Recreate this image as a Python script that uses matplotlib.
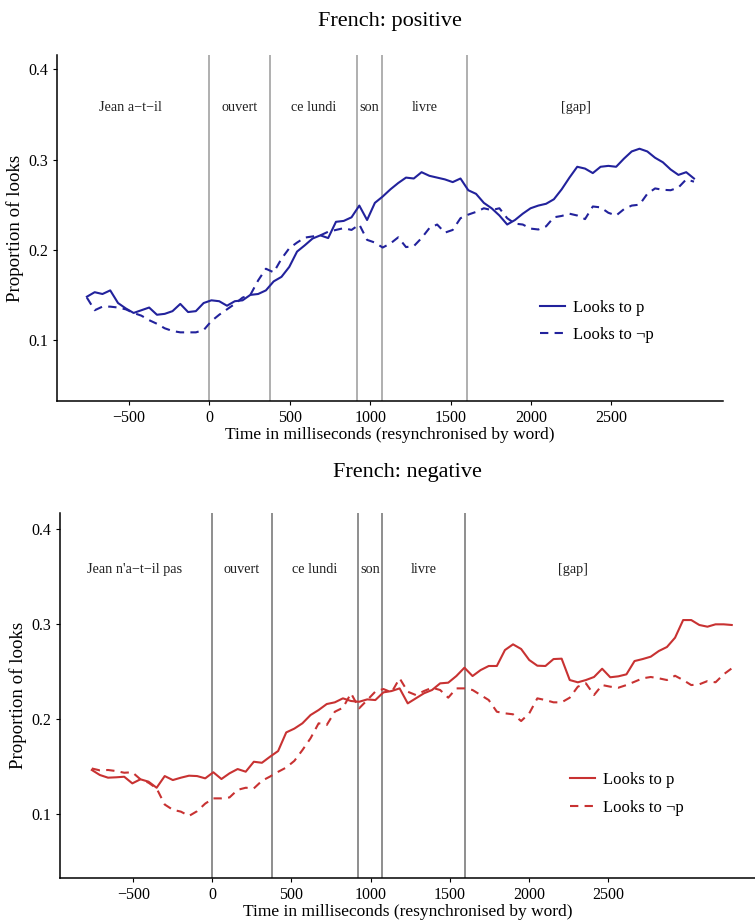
import numpy as np
import matplotlib.pyplot as plt

plt.rcParams['font.family'] = ['Liberation Serif', 'DejaVu Serif']

# word boundaries (ms) and region labels
boundaries = [0, 375, 920, 1075, 1600]
pos_words = ['Jean a\u2212t\u2212il', 'ouvert', 'ce lundi', 'son', 'livre', '[gap]']
neg_words = ["Jean n'a\u2212t\u2212il pas", 'ouvert', 'ce lundi', 'son', 'livre', '[gap]']
word_centres = [-490, 187, 647, 997, 1337, 2280]
xticks = [-500, 0, 500, 1000, 1500, 2000, 2500]
yticks = [0.1, 0.2, 0.3, 0.4]

# French: positive
pos_p = [0.148, 0.153, 0.151, 0.155, 0.141, 0.135, 0.130, 0.133, 0.136, 0.128,
         0.129, 0.132, 0.140, 0.131, 0.132, 0.141, 0.144, 0.143, 0.138, 0.143,
         0.144, 0.150, 0.151, 0.155, 0.165, 0.170, 0.181, 0.198, 0.205, 0.2125,
         0.216, 0.213, 0.231, 0.232, 0.236, 0.249, 0.233, 0.252, 0.259, 0.267,
         0.274, 0.280, 0.279, 0.286, 0.282, 0.280, 0.278, 0.275, 0.279, 0.266,
         0.262, 0.252, 0.246, 0.238, 0.228, 0.233, 0.240, 0.246, 0.249, 0.251,
         0.256, 0.267, 0.280, 0.292, 0.290, 0.285, 0.292, 0.293, 0.292, 0.301,
         0.309, 0.312, 0.309, 0.302, 0.297, 0.289, 0.283, 0.286, 0.279]
pos_notp = [0.147, 0.133, 0.137, 0.137, 0.136, 0.134, 0.130, 0.127, 0.122, 0.118,
            0.113, 0.110, 0.1085, 0.1085, 0.1085, 0.111, 0.121, 0.128, 0.134, 0.140,
            0.147, 0.150, 0.166, 0.179, 0.175, 0.190, 0.2017, 0.208, 0.2135, 0.2148,
            0.216, 0.220, 0.222, 0.224, 0.222, 0.228, 0.211, 0.208, 0.2025, 0.207,
            0.2138, 0.203, 0.204, 0.213, 0.224, 0.228, 0.219, 0.222, 0.235, 0.239,
            0.242, 0.246, 0.244, 0.246, 0.235, 0.229, 0.228, 0.2235, 0.2225, 0.226,
            0.236, 0.2375, 0.240, 0.238, 0.234, 0.248, 0.247, 0.241, 0.238, 0.245,
            0.249, 0.250, 0.262, 0.268, 0.2665, 0.266, 0.269, 0.278, 0.2755]

# French: negative
neg_p = [0.1464, 0.1411, 0.1383, 0.1387, 0.1393, 0.1323, 0.1366, 0.1341, 0.1277, 0.140,
         0.1358, 0.1383, 0.1404, 0.140, 0.1376, 0.144, 0.1369, 0.1429, 0.1474, 0.1446,
         0.1551, 0.154, 0.1604, 0.1664, 0.186, 0.190, 0.1956, 0.2043, 0.2096, 0.2159,
         0.2177, 0.2219, 0.2191, 0.2183, 0.2208, 0.2201, 0.2282, 0.2296, 0.2324, 0.2166,
         0.2219, 0.2272, 0.2307, 0.2377, 0.2384, 0.2454, 0.2542, 0.2454, 0.2517, 0.256,
         0.256, 0.2728, 0.2788, 0.2739, 0.2623, 0.2563, 0.256, 0.2633, 0.2637, 0.2412,
         0.2388, 0.2412, 0.2444, 0.2531, 0.2441, 0.2451, 0.2472, 0.2612, 0.2633, 0.2658,
         0.2718, 0.276, 0.2858, 0.3044, 0.3044, 0.2992, 0.2974, 0.2999, 0.2999, 0.2992]
neg_notp = [0.148, 0.146, 0.1464, 0.1453, 0.1435, 0.144, 0.1366, 0.133, 0.127, 0.110,
            0.1045, 0.1025, 0.098, 0.103, 0.111, 0.1165, 0.1165, 0.1175, 0.1255, 0.1277,
            0.127, 0.135, 0.1395, 0.1445, 0.149, 0.156, 0.1674, 0.1798, 0.1956, 0.1938,
            0.2078, 0.212, 0.2272, 0.2114, 0.2201, 0.229, 0.2317, 0.2282, 0.243, 0.2289,
            0.2254, 0.2296, 0.2331, 0.2307, 0.2226, 0.2324, 0.2324, 0.2307, 0.2254, 0.2201,
            0.2078, 0.2061, 0.2051, 0.198, 0.2061, 0.2219, 0.2201, 0.2177, 0.2177, 0.2226,
            0.2342, 0.2377, 0.2254, 0.2359, 0.2342, 0.2331, 0.2359, 0.2394, 0.243, 0.2444,
            0.243, 0.2412, 0.2457, 0.2412, 0.2359, 0.2367, 0.2401, 0.2388, 0.2472, 0.2535]

# time bins (ms)
pos_time = np.linspace(-763, 3015, len(pos_p))
neg_time = np.linspace(-762, 3283, len(neg_p))


def draw_panel(ax, time, p, notp, words, colour, line_colour, title, title_pad,
               xlim, ylim, leg_anchor):
    for b in boundaries:
        ax.axvline(b, color=line_colour, linewidth=1.1, zorder=1)
    for w, c in zip(words, word_centres):
        ax.text(c, 0.358, w, ha='center', va='center', fontsize=10.3, color='#222222')
    ax.plot(time, p, color=colour, linewidth=1.5, label='Looks to p', zorder=3)
    ax.plot(time, notp, color=colour, linewidth=1.5, linestyle=(0, (4, 3)),
            label='Looks to \u00acp', zorder=3)
    ax.set_xlim(*xlim)
    ax.set_ylim(*ylim)
    ax.set_xticks(xticks)
    ax.set_yticks(yticks)
    ax.set_yticklabels(['0.1', '0.2', '0.3', '0.4'])
    ax.tick_params(labelsize=11.5, length=3, width=0.8, colors='black')
    for s in ['top', 'right']:
        ax.spines[s].set_visible(False)
    for s in ['left', 'bottom']:
        ax.spines[s].set_linewidth(1.1)
    ax.set_xlabel('Time in milliseconds (resynchronised by word)', fontsize=12.5, labelpad=1)
    ax.set_ylabel('Proportion of looks', fontsize=13.6, labelpad=3)
    ax.set_title(title, fontsize=16, pad=title_pad)
    ax.legend(loc='upper left', bbox_to_anchor=leg_anchor, frameon=False, fontsize=12,
              handlelength=1.5, handletextpad=0.5, labelspacing=0.7,
              borderpad=0, borderaxespad=0)


fig = plt.figure(figsize=(7.55, 9.24), dpi=100)
ax1 = fig.add_axes([0.0755, 0.566, 0.882, 0.3745])
ax2 = fig.add_axes([0.0795, 0.0501, 0.9205, 0.3947])

draw_panel(ax1, pos_time, pos_p, pos_notp, pos_words, '#22229c', '#9a9a9a',
           'French: positive', 21, (-949, 3195), (0.0324, 0.4159), (0.725, 0.293))
draw_panel(ax2, neg_time, neg_p, neg_notp, neg_words, '#c83232', '#707070',
           'French: negative', 26, (-963, 3430), (0.0329, 0.4172), (0.734, 0.29))

fig.savefig('out.png', dpi=100)
